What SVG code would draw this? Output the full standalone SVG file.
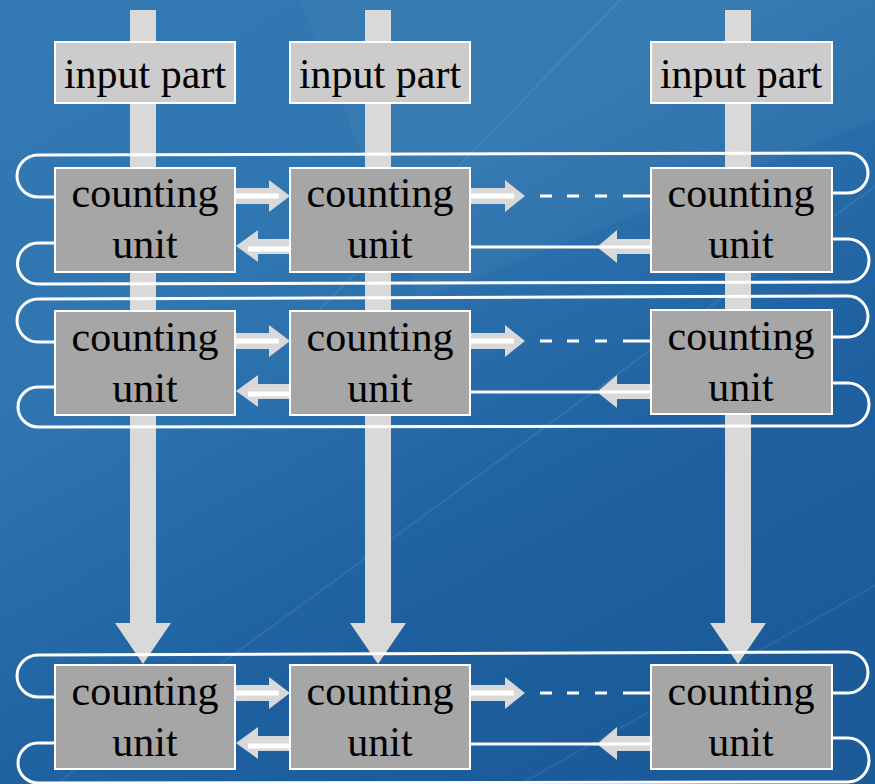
<svg xmlns="http://www.w3.org/2000/svg" xmlns:xlink="http://www.w3.org/1999/xlink" width="875" height="784" viewBox="0 0 875 784">
<defs>
<linearGradient id="bg" x1="0" y1="0" x2="0.6" y2="1">
<stop offset="0" stop-color="#3379b3"/>
<stop offset="0.4" stop-color="#2f76b0"/>
<stop offset="0.75" stop-color="#1f61a1"/>
<stop offset="1" stop-color="#1b5b99"/>
</linearGradient>
<style>
.bar{fill:#d9d9d9;}
.loop{fill:none;stroke:#ffffff;stroke-width:3;}
.harrow{fill:#d9d9d9;}
.wline{stroke:#ffffff;stroke-width:3;fill:none;}
.wband{stroke:#ffffff;stroke-width:5;fill:none;}
.inbox{fill:#cccccc;stroke:#ffffff;stroke-width:2;}
.cbox{fill:#a6a6a6;stroke:#ffffff;stroke-width:2;}
.t{font-family:"Liberation Serif","Times New Roman",serif;font-size:42px;fill:#000000;text-anchor:middle;}
</style>
<g id="hrow">
<polygon class="harrow" points="236,188 269,188 269,180 290,196 269,212 269,204 236,204"/>
<line class="wband" x1="236" y1="196" x2="279" y2="196"/>
<polygon class="harrow" points="290,239 258,239 258,230 236,246 258,262 258,254 290,254"/>
<line class="wband" x1="248" y1="249" x2="290" y2="249"/>
<polygon class="harrow" points="470,188 505,188 505,180 525,196 505,212 505,204 470,204"/>
<line class="wband" x1="470" y1="196" x2="514" y2="196"/>
<path class="wline" d="M540 196H552M567 196H579M595 196H607M623 196H651"/>
<polygon class="harrow" points="651,239 617,239 617,230 597,247 617,263 617,254 651,254"/>
<line class="wline" x1="470" y1="247" x2="651" y2="247"/>
</g>
</defs>
<rect x="0" y="0" width="875" height="784" fill="url(#bg)"/>
<polygon points="300,0 875,0 875,120 420,300" fill="#ffffff" fill-opacity="0.035"/>
<line x1="1130" y1="0" x2="56" y2="784" stroke="#ffffff" stroke-opacity="0.08" stroke-width="2"/>
<line x1="620" y1="0" x2="300" y2="330" stroke="#ffffff" stroke-opacity="0.07" stroke-width="2"/>
<line x1="1100" y1="460" x2="520" y2="784" stroke="#ffffff" stroke-opacity="0.07" stroke-width="2"/>

<g id="connectors">
<polygon class="bar" points="130,10 156,10 156,623 171,623 143,664 115,623 130,623"/>
<polygon class="bar" points="365,10 391,10 391,623 406,623 378,664 350,623 365,623"/>
<polygon class="bar" points="725,10 751,10 751,623 766,623 738,664 710,623 725,623"/>

<path class="loop" d="M55 197H38A21 21 0 0 1 38 155L848 153A20 20 0 0 1 848 193H832"/>
<path class="loop" d="M55 243H38A20.5 20.5 0 0 0 38 284L848 282A21 21.5 0 0 0 848 239H832"/>
<path class="loop" d="M55 342H38A21 21.5 0 0 1 38 299L848 296A20 20.5 0 0 1 848 337H832"/>
<path class="loop" d="M55 387H38A20 20 0 0 0 38 427L848 426A21 21.5 0 0 0 848 383H832"/>
<path class="loop" d="M55 697H38A21 21 0 0 1 38 655L848 652A20 20.5 0 0 1 848 693H832"/>
<path class="loop" d="M55 743H38A20 20 0 0 0 38 783L848 782A21 22 0 0 0 848 738H832"/>

<use xlink:href="#hrow" href="#hrow"/>
<use xlink:href="#hrow" href="#hrow" transform="translate(0,145)"/>
<use xlink:href="#hrow" href="#hrow" transform="translate(0,497)"/>
</g>

<g id="input1"><rect class="inbox" x="55" y="42" width="180" height="61"/><text class="t" x="145" y="88">input part</text></g>
<g id="input2"><rect class="inbox" x="290" y="42" width="180" height="61"/><text class="t" x="380" y="88">input part</text></g>
<g id="input3"><rect class="inbox" x="651" y="42" width="181" height="61"/><text class="t" x="741" y="88">input part</text></g>

<g id="cu11"><rect class="cbox" x="55" y="168" width="180" height="104"/><text class="t" x="145" y="207">counting</text><text class="t" x="145" y="258">unit</text></g>
<g id="cu12"><rect class="cbox" x="290" y="168" width="180" height="104"/><text class="t" x="380" y="207">counting</text><text class="t" x="380" y="258">unit</text></g>
<g id="cu13"><rect class="cbox" x="651" y="168" width="181" height="104"/><text class="t" x="741" y="207">counting</text><text class="t" x="741" y="258">unit</text></g>

<g id="cu21"><rect class="cbox" x="55" y="311" width="180" height="104"/><text class="t" x="145" y="351">counting</text><text class="t" x="145" y="402">unit</text></g>
<g id="cu22"><rect class="cbox" x="290" y="311" width="180" height="104"/><text class="t" x="380" y="351">counting</text><text class="t" x="380" y="402">unit</text></g>
<g id="cu23"><rect class="cbox" x="651" y="310" width="181" height="104"/><text class="t" x="741" y="350">counting</text><text class="t" x="741" y="401">unit</text></g>

<g id="cu31"><rect class="cbox" x="55" y="665" width="180" height="104"/><text class="t" x="145" y="705">counting</text><text class="t" x="145" y="756">unit</text></g>
<g id="cu32"><rect class="cbox" x="290" y="665" width="180" height="104"/><text class="t" x="380" y="705">counting</text><text class="t" x="380" y="756">unit</text></g>
<g id="cu33"><rect class="cbox" x="651" y="665" width="181" height="104"/><text class="t" x="741" y="705">counting</text><text class="t" x="741" y="756">unit</text></g>
</svg>
